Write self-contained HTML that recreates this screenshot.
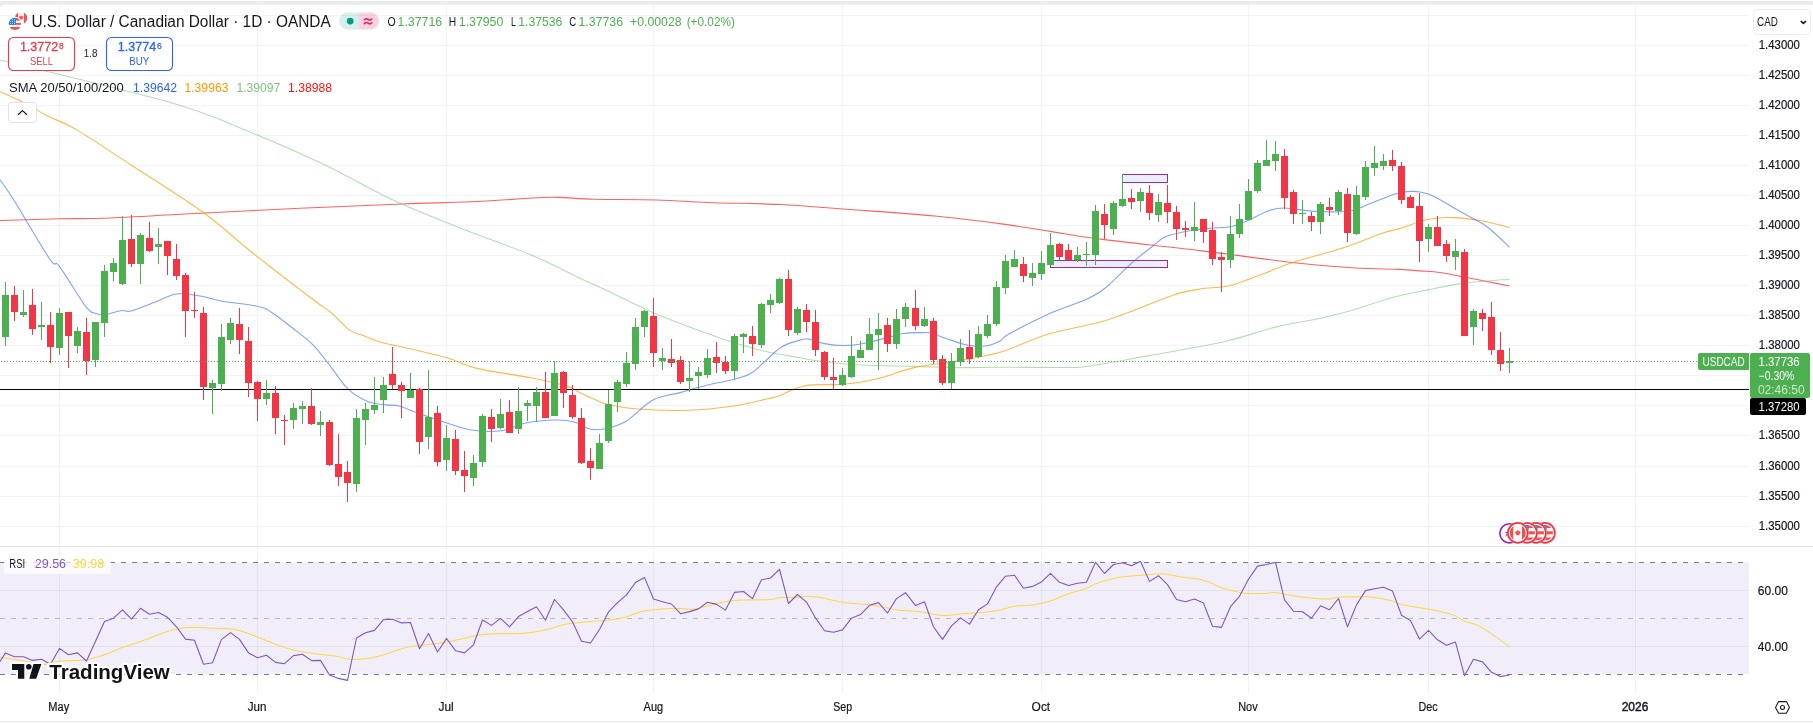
<!DOCTYPE html>
<html><head><meta charset="utf-8"><title>USDCAD</title><style>html,body{margin:0;padding:0;background:#fff;}body{width:1813px;height:724px;overflow:hidden;font-family:"Liberation Sans",sans-serif;}</style></head><body>
<svg width="1813" height="724" viewBox="0 0 1813 724" font-family="Liberation Sans, sans-serif" style="display:block;will-change:transform">
<rect width="1813" height="724" fill="#ffffff"/>
<rect x="0" y="1" width="1813" height="8" fill="#ebebeb"/>
<rect x="0" y="4.7" width="1815" height="10" rx="4" fill="#ffffff"/>
<g shape-rendering="crispEdges">
<rect x="0" y="15" width="1749" height="1" fill="#f1f3f4"/>
<rect x="0" y="45" width="1749" height="1" fill="#f1f3f4"/>
<rect x="0" y="75" width="1749" height="1" fill="#f1f3f4"/>
<rect x="0" y="105" width="1749" height="1" fill="#f1f3f4"/>
<rect x="0" y="135" width="1749" height="1" fill="#f1f3f4"/>
<rect x="0" y="165" width="1749" height="1" fill="#f1f3f4"/>
<rect x="0" y="195" width="1749" height="1" fill="#f1f3f4"/>
<rect x="0" y="225" width="1749" height="1" fill="#f1f3f4"/>
<rect x="0" y="255" width="1749" height="1" fill="#f1f3f4"/>
<rect x="0" y="285" width="1749" height="1" fill="#f1f3f4"/>
<rect x="0" y="315" width="1749" height="1" fill="#f1f3f4"/>
<rect x="0" y="345" width="1749" height="1" fill="#f1f3f4"/>
<rect x="0" y="375" width="1749" height="1" fill="#f1f3f4"/>
<rect x="0" y="405" width="1749" height="1" fill="#f1f3f4"/>
<rect x="0" y="435" width="1749" height="1" fill="#f1f3f4"/>
<rect x="0" y="466" width="1749" height="1" fill="#f1f3f4"/>
<rect x="0" y="496" width="1749" height="1" fill="#f1f3f4"/>
<rect x="0" y="526" width="1749" height="1" fill="#f1f3f4"/>
<rect x="59" y="5" width="1" height="541" fill="#f1f3f4"/>
<rect x="59" y="547" width="1" height="146" fill="#f1f3f4"/>
<rect x="257" y="5" width="1" height="541" fill="#f1f3f4"/>
<rect x="257" y="547" width="1" height="146" fill="#f1f3f4"/>
<rect x="446" y="5" width="1" height="541" fill="#f1f3f4"/>
<rect x="446" y="547" width="1" height="146" fill="#f1f3f4"/>
<rect x="653" y="5" width="1" height="541" fill="#f1f3f4"/>
<rect x="653" y="547" width="1" height="146" fill="#f1f3f4"/>
<rect x="842" y="5" width="1" height="541" fill="#f1f3f4"/>
<rect x="842" y="547" width="1" height="146" fill="#f1f3f4"/>
<rect x="1041" y="5" width="1" height="541" fill="#f1f3f4"/>
<rect x="1041" y="547" width="1" height="146" fill="#f1f3f4"/>
<rect x="1248" y="5" width="1" height="541" fill="#f1f3f4"/>
<rect x="1248" y="547" width="1" height="146" fill="#f1f3f4"/>
<rect x="1428" y="5" width="1" height="541" fill="#f1f3f4"/>
<rect x="1428" y="547" width="1" height="146" fill="#f1f3f4"/>
<rect x="1635" y="5" width="1" height="541" fill="#f1f3f4"/>
<rect x="1635" y="547" width="1" height="146" fill="#f1f3f4"/>
<rect x="0" y="546" width="1813" height="1" fill="#e0e3eb"/>
</g>
<path d="M0.0,220.5 C10.0,220.2 41.7,219.2 60.0,218.8 C78.3,218.4 86.7,218.9 110.0,218.0 C133.3,217.1 176.7,214.5 200.0,213.3 C223.3,212.1 233.3,211.5 250.0,210.7 C266.7,209.9 274.6,209.4 300.0,208.3 C325.4,207.2 374.0,205.1 402.5,204.0 C431.0,202.9 448.5,202.8 471.0,201.8 C493.5,200.8 522.6,198.5 537.3,197.8 C552.0,197.1 549.8,197.2 559.4,197.4 C569.0,197.6 578.6,198.8 594.8,199.2 C611.0,199.6 636.7,199.4 656.6,200.0 C676.5,200.6 693.4,201.9 714.0,202.7 C734.6,203.4 758.3,203.4 780.4,204.5 C802.5,205.6 820.9,207.4 846.7,209.3 C872.5,211.2 909.2,213.6 935.0,216.0 C960.8,218.4 982.2,221.3 1001.4,223.9 C1020.6,226.5 1033.1,228.8 1050.0,231.4 C1066.9,234.0 1077.7,236.2 1102.7,239.4 C1127.7,242.6 1168.1,246.7 1200.0,250.6 C1231.9,254.5 1268.2,259.8 1294.0,262.7 C1319.8,265.6 1337.3,266.9 1355.0,268.0 C1372.7,269.1 1389.2,268.9 1400.0,269.4 C1410.8,269.9 1413.3,270.4 1420.0,270.9 C1426.7,271.4 1433.2,271.6 1440.0,272.5 C1446.8,273.4 1453.7,275.1 1460.7,276.4 C1467.7,277.7 1473.9,278.9 1482.0,280.5 C1490.1,282.1 1504.9,285.1 1509.5,286.0" fill="none" stroke="#ff0000" stroke-opacity="0.62" stroke-width="1.1"/>
<path d="M0.0,60.0 C28.7,67.2 130.3,91.0 172.0,103.0 C213.7,115.0 224.5,121.7 250.0,132.0 C275.5,142.3 301.4,153.9 325.0,165.1 C348.6,176.3 369.3,188.9 391.4,199.2 C413.5,209.5 434.1,217.6 457.7,227.0 C481.3,236.4 512.5,247.2 532.9,255.7 C553.3,264.2 568.2,272.7 580.0,278.2 C591.8,283.7 590.8,282.9 603.6,288.9 C616.4,294.9 637.5,306.0 656.6,314.1 C675.8,322.2 700.8,331.4 718.5,337.5 C736.2,343.6 749.1,347.4 762.7,350.8 C776.3,354.2 791.2,356.2 800.0,357.8 C808.8,359.4 806.2,359.3 815.7,360.5 C825.2,361.7 840.5,363.8 857.0,364.8 C873.5,365.8 897.8,365.9 915.0,366.4 C932.2,366.9 945.8,367.5 960.0,367.6 C974.2,367.7 982.2,367.2 1000.0,367.2 C1017.8,367.2 1052.1,367.7 1067.0,367.5 C1081.9,367.3 1075.8,368.0 1089.5,366.0 C1103.2,364.0 1126.6,359.6 1149.0,355.6 C1171.4,351.6 1202.5,346.6 1223.7,341.8 C1244.9,337.0 1260.5,330.7 1276.0,326.9 C1291.5,323.1 1304.6,321.7 1317.0,319.0 C1329.4,316.3 1338.1,314.3 1350.5,310.8 C1362.9,307.3 1378.5,301.3 1391.5,297.8 C1404.5,294.3 1416.4,292.1 1428.8,289.6 C1441.2,287.1 1452.5,284.6 1466.0,282.9 C1479.5,281.2 1502.2,279.8 1509.5,279.2" fill="none" stroke="#81c784" stroke-opacity="0.6" stroke-width="1.1"/>
<path d="M0.0,91.5 C3.4,93.1 12.7,97.0 20.7,101.1 C28.8,105.2 39.1,111.6 48.3,116.3 C57.5,121.0 62.0,121.1 76.0,129.4 C90.0,137.7 111.3,152.1 132.6,166.0 C153.9,179.9 183.8,198.3 204.0,213.0 C224.2,227.7 235.7,239.5 254.0,254.0 C272.3,268.5 300.8,290.2 313.7,300.0 C326.6,309.8 325.4,307.9 331.5,313.0 C337.6,318.1 344.5,326.6 350.0,330.4 C355.5,334.2 359.6,334.1 364.6,336.0 C369.6,337.9 374.1,340.2 380.0,342.0 C385.9,343.8 388.8,343.9 400.0,346.5 C411.2,349.1 434.2,354.2 447.0,357.8 C459.8,361.4 462.8,365.0 477.0,368.4 C491.2,371.8 516.8,375.0 532.0,378.0 C547.2,381.0 560.5,384.2 568.5,386.6 C576.5,389.1 574.8,390.2 580.0,392.7 C585.2,395.2 595.5,399.9 600.0,401.8 C604.5,403.7 601.2,402.8 607.0,404.0 C612.8,405.2 621.0,407.8 634.7,408.8 C648.4,409.9 672.8,410.7 689.0,410.3 C705.2,409.9 718.8,408.2 732.0,406.3 C745.2,404.4 760.0,400.5 768.0,398.7 C776.0,396.9 773.8,397.6 780.0,395.4 C786.2,393.2 794.4,387.6 805.0,385.7 C815.6,383.8 831.8,385.3 843.8,384.2 C855.8,383.1 864.8,381.8 876.7,379.0 C888.6,376.2 902.1,370.3 915.0,367.4 C927.9,364.5 939.8,364.1 954.0,361.6 C968.2,359.1 984.2,356.9 1000.0,352.3 C1015.8,347.7 1030.8,339.4 1048.7,334.0 C1066.6,328.6 1086.7,326.4 1107.4,320.0 C1128.1,313.6 1157.6,300.5 1173.0,295.3 C1188.4,290.1 1190.8,290.6 1200.0,289.0 C1209.2,287.4 1218.2,288.2 1228.0,286.0 C1237.8,283.8 1247.7,279.6 1258.7,275.6 C1269.7,271.6 1280.3,266.5 1294.0,262.0 C1307.7,257.5 1326.2,253.4 1341.0,248.6 C1355.8,243.8 1373.2,236.4 1383.0,233.0 C1392.8,229.6 1392.6,230.7 1400.0,228.4 C1407.4,226.2 1418.8,221.3 1427.6,219.5 C1436.3,217.7 1443.3,217.3 1452.5,217.6 C1461.7,217.8 1473.5,219.3 1483.0,221.0 C1492.5,222.7 1505.1,226.5 1509.5,227.6" fill="none" stroke="#ff9800" stroke-opacity="0.7" stroke-width="1.1"/>
<path d="M0.0,179.7 C2.3,183.1 5.5,186.8 13.8,200.0 C22.1,213.2 42.1,247.9 49.7,259.0 C57.3,270.1 53.4,258.4 59.4,266.3 C65.4,274.2 79.6,298.6 85.6,306.4 C91.6,314.2 92.1,311.9 95.3,313.3 C98.5,314.7 100.6,315.1 105.0,314.6 C109.4,314.1 117.2,311.1 121.5,310.5 C125.8,309.9 125.5,312.4 131.0,311.0 C136.5,309.6 147.1,305.0 154.7,302.2 C162.3,299.4 169.2,295.0 176.8,294.0 C184.4,293.0 192.6,294.8 200.0,296.0 C207.4,297.2 211.7,299.3 221.0,301.0 C230.3,302.7 247.7,304.2 256.0,306.0 C264.3,307.8 264.4,307.9 271.0,312.0 C277.6,316.1 288.4,324.8 295.5,330.4 C302.6,336.0 307.6,339.3 313.7,345.6 C319.8,351.9 326.2,361.0 332.0,368.4 C337.8,375.8 342.6,384.1 348.7,389.7 C354.8,395.3 362.1,399.3 368.4,401.8 C374.7,404.3 381.8,404.2 386.7,404.9 C391.6,405.6 393.0,404.5 398.0,405.8 C403.0,407.1 409.4,410.0 416.5,412.5 C423.6,415.0 431.7,418.1 440.8,421.0 C449.9,423.9 460.9,428.4 471.0,430.0 C481.1,431.6 492.3,431.9 501.5,430.7 C510.7,429.5 516.9,424.8 526.0,423.0 C535.1,421.2 547.9,420.2 556.0,420.0 C564.1,419.8 568.9,420.5 574.5,422.0 C580.1,423.5 584.8,427.8 589.7,429.0 C594.6,430.2 598.0,430.2 604.0,429.0 C610.0,427.8 617.4,426.3 625.6,421.5 C633.8,416.7 643.9,404.8 653.0,400.0 C662.1,395.2 670.9,395.1 680.0,392.6 C689.1,390.1 698.4,387.3 707.6,385.0 C716.8,382.7 727.4,381.2 735.0,379.0 C742.6,376.8 745.4,377.2 753.0,372.0 C760.6,366.8 772.2,353.1 780.5,347.7 C788.8,342.2 797.9,340.6 803.0,339.3 C808.1,338.0 807.4,339.0 811.0,339.7 C814.6,340.4 819.0,342.6 824.5,343.6 C830.0,344.6 837.0,345.6 843.8,345.5 C850.5,345.4 858.2,344.4 865.0,343.2 C871.8,342.0 877.9,340.0 884.4,338.4 C890.9,336.8 897.3,334.5 903.7,333.5 C910.1,332.5 918.5,332.7 923.0,332.6 C927.5,332.5 927.0,332.0 930.8,333.0 C934.6,334.0 940.2,336.4 946.0,338.4 C951.8,340.3 959.1,343.4 965.6,344.7 C972.1,346.0 979.3,346.6 985.0,346.0 C990.7,345.4 996.0,342.9 1000.0,340.9 C1004.0,338.9 1000.7,338.5 1008.8,334.0 C1016.9,329.5 1035.8,319.8 1048.7,314.0 C1061.6,308.2 1076.6,303.8 1086.0,299.5 C1095.4,295.2 1097.5,294.3 1105.0,288.3 C1112.5,282.3 1122.8,270.9 1131.0,263.6 C1139.2,256.4 1148.6,249.3 1154.4,244.8 C1160.2,240.3 1160.1,238.9 1166.0,236.6 C1171.9,234.2 1182.3,232.1 1189.6,230.7 C1196.9,229.3 1203.2,229.0 1210.0,228.3 C1216.8,227.6 1224.3,227.9 1230.5,226.7 C1236.7,225.5 1240.8,223.6 1247.0,221.0 C1253.2,218.4 1261.8,213.2 1268.0,211.0 C1274.2,208.8 1276.3,207.9 1284.5,208.0 C1292.7,208.1 1306.1,211.0 1317.0,211.5 C1327.9,212.0 1341.3,212.2 1350.0,211.0 C1358.7,209.8 1361.5,206.8 1369.0,204.0 C1376.5,201.2 1388.3,196.0 1395.0,193.9 C1401.7,191.8 1404.8,191.8 1409.0,191.5 C1413.2,191.2 1416.0,191.2 1420.0,192.0 C1424.0,192.8 1427.2,193.2 1433.0,196.0 C1438.8,198.8 1448.5,204.8 1455.0,208.5 C1461.5,212.2 1466.4,214.8 1472.0,218.0 C1477.6,221.2 1482.2,222.9 1488.4,227.8 C1494.7,232.7 1506.0,244.1 1509.5,247.3" fill="none" stroke="#2962ff" stroke-opacity="0.6" stroke-width="1.1"/>
<g shape-rendering="crispEdges">
<rect x="0" y="388.5" width="1749" height="1.5" fill="#000"/>
</g>
<rect x="1122.5" y="174.5" width="45" height="8" fill="#2962ff" fill-opacity="0.1" stroke="#9c27b0" stroke-width="1"/>
<rect x="1050.5" y="260.5" width="117" height="7" fill="#2962ff" fill-opacity="0.1" stroke="#9c27b0" stroke-width="1"/>
<g shape-rendering="crispEdges">
<rect x="5" y="282" width="1" height="64" fill="#4caf50"/>
<rect x="2" y="295" width="7" height="42" fill="#4caf50"/>
<rect x="14" y="286" width="1" height="35" fill="#f23645"/>
<rect x="11" y="295" width="7" height="17" fill="#f23645"/>
<rect x="23" y="290" width="1" height="27" fill="#4caf50"/>
<rect x="20" y="312" width="7" height="3" fill="#4caf50"/>
<rect x="32" y="289" width="1" height="46" fill="#f23645"/>
<rect x="29" y="305" width="7" height="24" fill="#f23645"/>
<rect x="41" y="302" width="1" height="38" fill="#4caf50"/>
<rect x="38" y="325" width="7" height="2" fill="#4caf50"/>
<rect x="50" y="312" width="1" height="51" fill="#f23645"/>
<rect x="47" y="325" width="7" height="22" fill="#f23645"/>
<rect x="59" y="308" width="1" height="47" fill="#4caf50"/>
<rect x="56" y="313" width="7" height="35" fill="#4caf50"/>
<rect x="68" y="312" width="1" height="56" fill="#f23645"/>
<rect x="65" y="312" width="7" height="24" fill="#f23645"/>
<rect x="77" y="327" width="1" height="26" fill="#4caf50"/>
<rect x="74" y="331" width="7" height="15" fill="#4caf50"/>
<rect x="86" y="318" width="1" height="57" fill="#f23645"/>
<rect x="83" y="332" width="7" height="29" fill="#f23645"/>
<rect x="95" y="322" width="1" height="45" fill="#4caf50"/>
<rect x="92" y="322" width="7" height="38" fill="#4caf50"/>
<rect x="104" y="265" width="1" height="72" fill="#4caf50"/>
<rect x="101" y="271" width="7" height="52" fill="#4caf50"/>
<rect x="113" y="258" width="1" height="23" fill="#4caf50"/>
<rect x="110" y="263" width="7" height="9" fill="#4caf50"/>
<rect x="122" y="216" width="1" height="69" fill="#4caf50"/>
<rect x="119" y="240" width="7" height="44" fill="#4caf50"/>
<rect x="131" y="215" width="1" height="52" fill="#f23645"/>
<rect x="128" y="239" width="7" height="25" fill="#f23645"/>
<rect x="140" y="233" width="1" height="51" fill="#4caf50"/>
<rect x="137" y="235" width="7" height="29" fill="#4caf50"/>
<rect x="149" y="222" width="1" height="30" fill="#f23645"/>
<rect x="146" y="238" width="7" height="13" fill="#f23645"/>
<rect x="158" y="228" width="1" height="36" fill="#4caf50"/>
<rect x="155" y="244" width="7" height="3" fill="#4caf50"/>
<rect x="167" y="241" width="1" height="34" fill="#f23645"/>
<rect x="164" y="241" width="7" height="15" fill="#f23645"/>
<rect x="176" y="244" width="1" height="36" fill="#f23645"/>
<rect x="173" y="259" width="7" height="17" fill="#f23645"/>
<rect x="185" y="273" width="1" height="64" fill="#f23645"/>
<rect x="182" y="275" width="7" height="36" fill="#f23645"/>
<rect x="194" y="292" width="1" height="26" fill="#f23645"/>
<rect x="191" y="310" width="7" height="1" fill="#f23645"/>
<rect x="203" y="307" width="1" height="93" fill="#f23645"/>
<rect x="200" y="313" width="7" height="74" fill="#f23645"/>
<rect x="212" y="380" width="1" height="34" fill="#4caf50"/>
<rect x="209" y="383" width="7" height="5" fill="#4caf50"/>
<rect x="221" y="324" width="1" height="67" fill="#4caf50"/>
<rect x="218" y="337" width="7" height="47" fill="#4caf50"/>
<rect x="230" y="318" width="1" height="26" fill="#4caf50"/>
<rect x="227" y="323" width="7" height="17" fill="#4caf50"/>
<rect x="239" y="308" width="1" height="46" fill="#f23645"/>
<rect x="236" y="324" width="7" height="16" fill="#f23645"/>
<rect x="248" y="327" width="1" height="70" fill="#f23645"/>
<rect x="245" y="341" width="7" height="42" fill="#f23645"/>
<rect x="257" y="381" width="1" height="40" fill="#f23645"/>
<rect x="254" y="382" width="7" height="17" fill="#f23645"/>
<rect x="266" y="380" width="1" height="25" fill="#4caf50"/>
<rect x="263" y="393" width="7" height="6" fill="#4caf50"/>
<rect x="275" y="386" width="1" height="48" fill="#f23645"/>
<rect x="272" y="393" width="7" height="25" fill="#f23645"/>
<rect x="284" y="415" width="1" height="30" fill="#f23645"/>
<rect x="281" y="420" width="7" height="1" fill="#f23645"/>
<rect x="293" y="403" width="1" height="26" fill="#4caf50"/>
<rect x="290" y="408" width="7" height="12" fill="#4caf50"/>
<rect x="302" y="401" width="1" height="23" fill="#4caf50"/>
<rect x="299" y="406" width="7" height="3" fill="#4caf50"/>
<rect x="311" y="388" width="1" height="37" fill="#f23645"/>
<rect x="308" y="406" width="7" height="18" fill="#f23645"/>
<rect x="320" y="411" width="1" height="25" fill="#4caf50"/>
<rect x="317" y="422" width="7" height="3" fill="#4caf50"/>
<rect x="329" y="420" width="1" height="46" fill="#f23645"/>
<rect x="326" y="422" width="7" height="43" fill="#f23645"/>
<rect x="338" y="434" width="1" height="52" fill="#f23645"/>
<rect x="335" y="464" width="7" height="13" fill="#f23645"/>
<rect x="347" y="461" width="1" height="41" fill="#f23645"/>
<rect x="344" y="472" width="7" height="11" fill="#f23645"/>
<rect x="356" y="409" width="1" height="83" fill="#4caf50"/>
<rect x="353" y="418" width="7" height="66" fill="#4caf50"/>
<rect x="365" y="403" width="1" height="42" fill="#4caf50"/>
<rect x="362" y="409" width="7" height="11" fill="#4caf50"/>
<rect x="374" y="377" width="1" height="37" fill="#4caf50"/>
<rect x="371" y="405" width="7" height="5" fill="#4caf50"/>
<rect x="383" y="377" width="1" height="36" fill="#4caf50"/>
<rect x="380" y="385" width="7" height="15" fill="#4caf50"/>
<rect x="392" y="347" width="1" height="42" fill="#f23645"/>
<rect x="389" y="374" width="7" height="11" fill="#f23645"/>
<rect x="401" y="382" width="1" height="36" fill="#f23645"/>
<rect x="398" y="385" width="7" height="6" fill="#f23645"/>
<rect x="410" y="373" width="1" height="25" fill="#4caf50"/>
<rect x="407" y="390" width="7" height="8" fill="#4caf50"/>
<rect x="419" y="388" width="1" height="66" fill="#f23645"/>
<rect x="416" y="389" width="7" height="53" fill="#f23645"/>
<rect x="428" y="370" width="1" height="79" fill="#4caf50"/>
<rect x="425" y="417" width="7" height="20" fill="#4caf50"/>
<rect x="437" y="406" width="1" height="60" fill="#f23645"/>
<rect x="434" y="413" width="7" height="49" fill="#f23645"/>
<rect x="446" y="425" width="1" height="46" fill="#4caf50"/>
<rect x="443" y="438" width="7" height="22" fill="#4caf50"/>
<rect x="455" y="430" width="1" height="45" fill="#f23645"/>
<rect x="452" y="439" width="7" height="32" fill="#f23645"/>
<rect x="464" y="451" width="1" height="41" fill="#f23645"/>
<rect x="461" y="470" width="7" height="6" fill="#f23645"/>
<rect x="473" y="455" width="1" height="31" fill="#4caf50"/>
<rect x="470" y="463" width="7" height="15" fill="#4caf50"/>
<rect x="482" y="414" width="1" height="53" fill="#4caf50"/>
<rect x="479" y="416" width="7" height="46" fill="#4caf50"/>
<rect x="491" y="409" width="1" height="33" fill="#f23645"/>
<rect x="488" y="417" width="7" height="12" fill="#f23645"/>
<rect x="500" y="399" width="1" height="30" fill="#4caf50"/>
<rect x="497" y="414" width="7" height="14" fill="#4caf50"/>
<rect x="509" y="400" width="1" height="33" fill="#f23645"/>
<rect x="506" y="412" width="7" height="21" fill="#f23645"/>
<rect x="518" y="387" width="1" height="47" fill="#4caf50"/>
<rect x="515" y="411" width="7" height="18" fill="#4caf50"/>
<rect x="527" y="400" width="1" height="21" fill="#4caf50"/>
<rect x="524" y="403" width="7" height="3" fill="#4caf50"/>
<rect x="536" y="387" width="1" height="35" fill="#4caf50"/>
<rect x="533" y="392" width="7" height="14" fill="#4caf50"/>
<rect x="545" y="372" width="1" height="46" fill="#f23645"/>
<rect x="542" y="392" width="7" height="26" fill="#f23645"/>
<rect x="554" y="361" width="1" height="55" fill="#4caf50"/>
<rect x="551" y="373" width="7" height="43" fill="#4caf50"/>
<rect x="563" y="371" width="1" height="37" fill="#f23645"/>
<rect x="560" y="372" width="7" height="21" fill="#f23645"/>
<rect x="572" y="385" width="1" height="34" fill="#f23645"/>
<rect x="569" y="395" width="7" height="22" fill="#f23645"/>
<rect x="581" y="408" width="1" height="56" fill="#f23645"/>
<rect x="578" y="418" width="7" height="45" fill="#f23645"/>
<rect x="590" y="448" width="1" height="32" fill="#f23645"/>
<rect x="587" y="461" width="7" height="7" fill="#f23645"/>
<rect x="599" y="434" width="1" height="35" fill="#4caf50"/>
<rect x="596" y="443" width="7" height="26" fill="#4caf50"/>
<rect x="608" y="390" width="1" height="53" fill="#4caf50"/>
<rect x="605" y="404" width="7" height="37" fill="#4caf50"/>
<rect x="617" y="380" width="1" height="32" fill="#4caf50"/>
<rect x="614" y="382" width="7" height="20" fill="#4caf50"/>
<rect x="626" y="352" width="1" height="35" fill="#4caf50"/>
<rect x="623" y="363" width="7" height="21" fill="#4caf50"/>
<rect x="635" y="318" width="1" height="52" fill="#4caf50"/>
<rect x="632" y="327" width="7" height="37" fill="#4caf50"/>
<rect x="644" y="310" width="1" height="27" fill="#4caf50"/>
<rect x="641" y="311" width="7" height="16" fill="#4caf50"/>
<rect x="653" y="298" width="1" height="69" fill="#f23645"/>
<rect x="650" y="316" width="7" height="37" fill="#f23645"/>
<rect x="662" y="348" width="1" height="22" fill="#4caf50"/>
<rect x="659" y="358" width="7" height="3" fill="#4caf50"/>
<rect x="671" y="339" width="1" height="28" fill="#f23645"/>
<rect x="668" y="359" width="7" height="4" fill="#f23645"/>
<rect x="680" y="356" width="1" height="28" fill="#f23645"/>
<rect x="677" y="360" width="7" height="22" fill="#f23645"/>
<rect x="689" y="361" width="1" height="31" fill="#4caf50"/>
<rect x="686" y="378" width="7" height="3" fill="#4caf50"/>
<rect x="698" y="367" width="1" height="22" fill="#4caf50"/>
<rect x="695" y="372" width="7" height="4" fill="#4caf50"/>
<rect x="707" y="349" width="1" height="29" fill="#4caf50"/>
<rect x="704" y="358" width="7" height="17" fill="#4caf50"/>
<rect x="716" y="342" width="1" height="31" fill="#f23645"/>
<rect x="713" y="357" width="7" height="6" fill="#f23645"/>
<rect x="725" y="356" width="1" height="18" fill="#f23645"/>
<rect x="722" y="362" width="7" height="9" fill="#f23645"/>
<rect x="734" y="334" width="1" height="46" fill="#4caf50"/>
<rect x="731" y="336" width="7" height="35" fill="#4caf50"/>
<rect x="743" y="333" width="1" height="20" fill="#4caf50"/>
<rect x="740" y="334" width="7" height="3" fill="#4caf50"/>
<rect x="752" y="326" width="1" height="30" fill="#f23645"/>
<rect x="749" y="336" width="7" height="8" fill="#f23645"/>
<rect x="761" y="303" width="1" height="45" fill="#4caf50"/>
<rect x="758" y="304" width="7" height="41" fill="#4caf50"/>
<rect x="770" y="294" width="1" height="19" fill="#4caf50"/>
<rect x="767" y="300" width="7" height="5" fill="#4caf50"/>
<rect x="779" y="278" width="1" height="26" fill="#4caf50"/>
<rect x="776" y="279" width="7" height="24" fill="#4caf50"/>
<rect x="788" y="270" width="1" height="66" fill="#f23645"/>
<rect x="785" y="279" width="7" height="51" fill="#f23645"/>
<rect x="797" y="307" width="1" height="28" fill="#4caf50"/>
<rect x="794" y="309" width="7" height="24" fill="#4caf50"/>
<rect x="806" y="304" width="1" height="28" fill="#f23645"/>
<rect x="803" y="310" width="7" height="12" fill="#f23645"/>
<rect x="815" y="310" width="1" height="46" fill="#f23645"/>
<rect x="812" y="322" width="7" height="28" fill="#f23645"/>
<rect x="824" y="351" width="1" height="29" fill="#f23645"/>
<rect x="821" y="352" width="7" height="25" fill="#f23645"/>
<rect x="833" y="358" width="1" height="31" fill="#f23645"/>
<rect x="830" y="377" width="7" height="3" fill="#f23645"/>
<rect x="842" y="368" width="1" height="18" fill="#4caf50"/>
<rect x="839" y="375" width="7" height="10" fill="#4caf50"/>
<rect x="851" y="336" width="1" height="42" fill="#4caf50"/>
<rect x="848" y="356" width="7" height="21" fill="#4caf50"/>
<rect x="860" y="341" width="1" height="17" fill="#4caf50"/>
<rect x="857" y="350" width="7" height="8" fill="#4caf50"/>
<rect x="869" y="318" width="1" height="32" fill="#4caf50"/>
<rect x="866" y="334" width="7" height="16" fill="#4caf50"/>
<rect x="878" y="313" width="1" height="57" fill="#4caf50"/>
<rect x="875" y="329" width="7" height="6" fill="#4caf50"/>
<rect x="887" y="318" width="1" height="34" fill="#f23645"/>
<rect x="884" y="325" width="7" height="19" fill="#f23645"/>
<rect x="896" y="309" width="1" height="40" fill="#4caf50"/>
<rect x="893" y="319" width="7" height="25" fill="#4caf50"/>
<rect x="905" y="303" width="1" height="24" fill="#4caf50"/>
<rect x="902" y="307" width="7" height="12" fill="#4caf50"/>
<rect x="915" y="290" width="1" height="40" fill="#f23645"/>
<rect x="912" y="308" width="7" height="18" fill="#f23645"/>
<rect x="924" y="307" width="1" height="20" fill="#4caf50"/>
<rect x="921" y="319" width="7" height="7" fill="#4caf50"/>
<rect x="933" y="318" width="1" height="46" fill="#f23645"/>
<rect x="930" y="321" width="7" height="39" fill="#f23645"/>
<rect x="942" y="355" width="1" height="30" fill="#f23645"/>
<rect x="939" y="359" width="7" height="24" fill="#f23645"/>
<rect x="951" y="353" width="1" height="36" fill="#4caf50"/>
<rect x="948" y="361" width="7" height="22" fill="#4caf50"/>
<rect x="960" y="339" width="1" height="27" fill="#4caf50"/>
<rect x="957" y="348" width="7" height="14" fill="#4caf50"/>
<rect x="969" y="330" width="1" height="34" fill="#f23645"/>
<rect x="966" y="347" width="7" height="12" fill="#f23645"/>
<rect x="978" y="326" width="1" height="32" fill="#4caf50"/>
<rect x="975" y="334" width="7" height="23" fill="#4caf50"/>
<rect x="987" y="315" width="1" height="23" fill="#4caf50"/>
<rect x="984" y="324" width="7" height="12" fill="#4caf50"/>
<rect x="996" y="281" width="1" height="45" fill="#4caf50"/>
<rect x="993" y="287" width="7" height="37" fill="#4caf50"/>
<rect x="1005" y="255" width="1" height="39" fill="#4caf50"/>
<rect x="1002" y="261" width="7" height="27" fill="#4caf50"/>
<rect x="1014" y="250" width="1" height="17" fill="#4caf50"/>
<rect x="1011" y="259" width="7" height="8" fill="#4caf50"/>
<rect x="1023" y="257" width="1" height="25" fill="#f23645"/>
<rect x="1020" y="264" width="7" height="12" fill="#f23645"/>
<rect x="1032" y="263" width="1" height="23" fill="#4caf50"/>
<rect x="1029" y="273" width="7" height="5" fill="#4caf50"/>
<rect x="1041" y="251" width="1" height="29" fill="#4caf50"/>
<rect x="1038" y="263" width="7" height="11" fill="#4caf50"/>
<rect x="1050" y="233" width="1" height="32" fill="#4caf50"/>
<rect x="1047" y="245" width="7" height="20" fill="#4caf50"/>
<rect x="1059" y="243" width="1" height="17" fill="#f23645"/>
<rect x="1056" y="244" width="7" height="13" fill="#f23645"/>
<rect x="1068" y="244" width="1" height="16" fill="#f23645"/>
<rect x="1065" y="250" width="7" height="10" fill="#f23645"/>
<rect x="1077" y="247" width="1" height="15" fill="#4caf50"/>
<rect x="1074" y="255" width="7" height="5" fill="#4caf50"/>
<rect x="1086" y="242" width="1" height="24" fill="#4caf50"/>
<rect x="1083" y="254" width="7" height="1" fill="#4caf50"/>
<rect x="1095" y="205" width="1" height="60" fill="#4caf50"/>
<rect x="1092" y="211" width="7" height="44" fill="#4caf50"/>
<rect x="1104" y="204" width="1" height="35" fill="#f23645"/>
<rect x="1101" y="214" width="7" height="11" fill="#f23645"/>
<rect x="1113" y="201" width="1" height="34" fill="#4caf50"/>
<rect x="1110" y="203" width="7" height="26" fill="#4caf50"/>
<rect x="1122" y="174" width="1" height="33" fill="#4caf50"/>
<rect x="1119" y="199" width="7" height="7" fill="#4caf50"/>
<rect x="1131" y="189" width="1" height="20" fill="#f23645"/>
<rect x="1128" y="198" width="7" height="4" fill="#f23645"/>
<rect x="1140" y="188" width="1" height="24" fill="#4caf50"/>
<rect x="1137" y="192" width="7" height="9" fill="#4caf50"/>
<rect x="1149" y="185" width="1" height="35" fill="#f23645"/>
<rect x="1146" y="193" width="7" height="20" fill="#f23645"/>
<rect x="1158" y="194" width="1" height="28" fill="#4caf50"/>
<rect x="1155" y="202" width="7" height="13" fill="#4caf50"/>
<rect x="1167" y="185" width="1" height="38" fill="#f23645"/>
<rect x="1164" y="203" width="7" height="9" fill="#f23645"/>
<rect x="1176" y="206" width="1" height="34" fill="#f23645"/>
<rect x="1173" y="212" width="7" height="17" fill="#f23645"/>
<rect x="1185" y="221" width="1" height="16" fill="#f23645"/>
<rect x="1182" y="228" width="7" height="2" fill="#f23645"/>
<rect x="1194" y="202" width="1" height="39" fill="#4caf50"/>
<rect x="1191" y="227" width="7" height="4" fill="#4caf50"/>
<rect x="1203" y="219" width="1" height="24" fill="#f23645"/>
<rect x="1200" y="219" width="7" height="13" fill="#f23645"/>
<rect x="1212" y="222" width="1" height="43" fill="#f23645"/>
<rect x="1209" y="230" width="7" height="29" fill="#f23645"/>
<rect x="1221" y="252" width="1" height="40" fill="#f23645"/>
<rect x="1218" y="257" width="7" height="3" fill="#f23645"/>
<rect x="1230" y="216" width="1" height="52" fill="#4caf50"/>
<rect x="1227" y="234" width="7" height="26" fill="#4caf50"/>
<rect x="1239" y="204" width="1" height="34" fill="#4caf50"/>
<rect x="1236" y="219" width="7" height="15" fill="#4caf50"/>
<rect x="1248" y="179" width="1" height="41" fill="#4caf50"/>
<rect x="1245" y="191" width="7" height="29" fill="#4caf50"/>
<rect x="1257" y="160" width="1" height="33" fill="#4caf50"/>
<rect x="1254" y="163" width="7" height="28" fill="#4caf50"/>
<rect x="1266" y="140" width="1" height="26" fill="#4caf50"/>
<rect x="1263" y="160" width="7" height="6" fill="#4caf50"/>
<rect x="1275" y="141" width="1" height="30" fill="#4caf50"/>
<rect x="1272" y="154" width="7" height="7" fill="#4caf50"/>
<rect x="1284" y="149" width="1" height="60" fill="#f23645"/>
<rect x="1281" y="156" width="7" height="42" fill="#f23645"/>
<rect x="1293" y="190" width="1" height="34" fill="#f23645"/>
<rect x="1290" y="192" width="7" height="22" fill="#f23645"/>
<rect x="1302" y="200" width="1" height="24" fill="#4caf50"/>
<rect x="1299" y="213" width="7" height="1" fill="#4caf50"/>
<rect x="1311" y="212" width="1" height="19" fill="#f23645"/>
<rect x="1308" y="216" width="7" height="6" fill="#f23645"/>
<rect x="1320" y="202" width="1" height="32" fill="#4caf50"/>
<rect x="1317" y="204" width="7" height="18" fill="#4caf50"/>
<rect x="1329" y="198" width="1" height="18" fill="#f23645"/>
<rect x="1326" y="207" width="7" height="3" fill="#f23645"/>
<rect x="1338" y="190" width="1" height="25" fill="#4caf50"/>
<rect x="1335" y="192" width="7" height="19" fill="#4caf50"/>
<rect x="1347" y="188" width="1" height="54" fill="#f23645"/>
<rect x="1344" y="194" width="7" height="39" fill="#f23645"/>
<rect x="1356" y="186" width="1" height="49" fill="#4caf50"/>
<rect x="1353" y="195" width="7" height="39" fill="#4caf50"/>
<rect x="1365" y="161" width="1" height="39" fill="#4caf50"/>
<rect x="1362" y="167" width="7" height="30" fill="#4caf50"/>
<rect x="1374" y="146" width="1" height="30" fill="#4caf50"/>
<rect x="1371" y="163" width="7" height="5" fill="#4caf50"/>
<rect x="1383" y="154" width="1" height="16" fill="#4caf50"/>
<rect x="1380" y="161" width="7" height="5" fill="#4caf50"/>
<rect x="1392" y="150" width="1" height="21" fill="#f23645"/>
<rect x="1389" y="160" width="7" height="6" fill="#f23645"/>
<rect x="1401" y="162" width="1" height="42" fill="#f23645"/>
<rect x="1398" y="166" width="7" height="34" fill="#f23645"/>
<rect x="1410" y="195" width="1" height="13" fill="#f23645"/>
<rect x="1407" y="197" width="7" height="11" fill="#f23645"/>
<rect x="1419" y="193" width="1" height="69" fill="#f23645"/>
<rect x="1416" y="206" width="7" height="35" fill="#f23645"/>
<rect x="1428" y="224" width="1" height="28" fill="#4caf50"/>
<rect x="1425" y="227" width="7" height="12" fill="#4caf50"/>
<rect x="1437" y="216" width="1" height="30" fill="#f23645"/>
<rect x="1434" y="227" width="7" height="19" fill="#f23645"/>
<rect x="1446" y="240" width="1" height="22" fill="#f23645"/>
<rect x="1443" y="244" width="7" height="12" fill="#f23645"/>
<rect x="1455" y="239" width="1" height="31" fill="#4caf50"/>
<rect x="1452" y="251" width="7" height="6" fill="#4caf50"/>
<rect x="1464" y="249" width="1" height="87" fill="#f23645"/>
<rect x="1461" y="252" width="7" height="84" fill="#f23645"/>
<rect x="1473" y="309" width="1" height="36" fill="#4caf50"/>
<rect x="1470" y="311" width="7" height="16" fill="#4caf50"/>
<rect x="1482" y="309" width="1" height="22" fill="#f23645"/>
<rect x="1479" y="313" width="7" height="6" fill="#f23645"/>
<rect x="1491" y="302" width="1" height="53" fill="#f23645"/>
<rect x="1488" y="317" width="7" height="33" fill="#f23645"/>
<rect x="1500" y="332" width="1" height="39" fill="#f23645"/>
<rect x="1497" y="350" width="7" height="14" fill="#f23645"/>
<rect x="1509" y="348" width="1" height="25" fill="#4caf50"/>
<rect x="1506" y="361" width="7" height="2" fill="#4caf50"/>
</g>
<line x1="0" y1="361.5" x2="1698" y2="361.5" stroke="#4caf50" stroke-width="1" stroke-dasharray="1 2" stroke-dashoffset="-1" shape-rendering="crispEdges"/>
<rect x="0" y="562.5" width="1749" height="111.5" fill="#7e57c2" fill-opacity="0.1"/>
<g shape-rendering="crispEdges">
<rect x="0" y="590" width="1749" height="1" fill="#2a2e39" fill-opacity="0.06"/>
<rect x="0" y="646" width="1749" height="1" fill="#2a2e39" fill-opacity="0.06"/>
</g>
<g shape-rendering="crispEdges">
<line x1="0" y1="562.5" x2="1749" y2="562.5" stroke="#787b86" stroke-width="1" stroke-dasharray="5 6"/>
<line x1="0" y1="618.5" x2="1749" y2="618.5" stroke="#b9bbc3" stroke-width="1" stroke-dasharray="5 6"/>
<line x1="0" y1="674.5" x2="1749" y2="674.5" stroke="#787b86" stroke-width="1" stroke-dasharray="5 6"/>
</g>
<path d="M0.0,657.3 C1.8,657.6 6.2,658.2 10.5,658.9 C14.8,659.6 22.2,660.6 26.0,661.3 C29.8,662.0 30.3,662.6 33.5,663.1 C36.7,663.6 41.1,664.7 45.0,664.5 C48.9,664.3 52.9,662.4 56.6,661.8 C60.3,661.2 62.5,661.0 67.0,660.8 C71.5,660.5 79.2,660.8 83.8,660.3 C88.3,659.8 90.8,658.8 94.3,657.9 C97.8,657.0 101.3,655.9 104.8,654.7 C108.3,653.5 112.4,651.7 115.3,650.5 C118.2,649.3 118.0,649.0 122.1,647.5 C126.3,646.0 134.1,643.8 140.1,641.7 C146.1,639.7 152.1,637.0 158.0,634.9 C164.0,632.8 170.0,630.3 176.0,629.0 C182.0,627.7 188.0,627.5 194.0,627.4 C200.0,627.3 206.5,628.1 211.9,628.3 C217.3,628.5 221.8,628.3 226.3,628.6 C230.8,629.0 233.8,629.1 238.9,630.4 C244.0,631.8 250.8,634.5 256.8,636.7 C262.8,639.0 269.7,642.0 274.8,643.9 C279.9,645.8 283.2,647.1 287.4,648.4 C291.6,649.6 294.9,650.5 300.0,651.4 C305.1,652.4 312.0,653.4 318.0,654.1 C323.9,654.9 330.8,655.3 335.9,656.1 C341.0,657.0 344.3,658.7 348.5,659.2 C352.7,659.7 356.6,659.5 361.1,659.2 C365.6,658.8 370.0,658.3 375.4,657.0 C380.8,655.8 387.7,653.4 393.4,651.6 C399.1,649.9 404.2,647.7 409.6,646.6 C414.9,645.5 420.0,645.5 425.7,644.8 C431.4,644.1 437.7,643.5 443.7,642.5 C449.7,641.5 455.7,640.1 461.6,638.9 C467.6,637.6 473.6,635.8 479.6,634.9 C485.6,634.1 491.6,633.9 497.6,633.7 C503.5,633.5 509.5,633.9 515.5,633.7 C521.5,633.4 527.5,633.1 533.5,632.2 C539.5,631.3 546.3,629.6 551.4,628.3 C556.5,627.0 559.5,625.4 564.0,624.5 C568.5,623.6 573.0,623.3 578.4,622.7 C583.8,622.1 592.7,621.4 596.3,621.1 C599.9,620.8 597.9,621.1 600.0,620.9 C602.1,620.7 604.8,620.6 609.0,620.0 C613.2,619.4 619.5,618.8 625.1,617.3 C630.8,615.9 635.3,612.7 643.1,611.2 C650.9,609.7 664.1,608.8 671.8,608.5 C679.6,608.2 685.3,609.3 689.8,609.2 C694.3,609.2 694.3,609.3 698.8,608.3 C703.3,607.4 710.8,604.8 716.7,603.5 C722.7,602.2 728.7,601.0 734.7,600.4 C740.7,599.8 746.7,600.0 752.7,599.9 C758.6,599.7 766.1,599.9 770.6,599.5 C775.1,599.2 775.1,598.1 779.6,597.7 C784.1,597.4 792.8,597.4 797.6,597.2 C802.3,597.0 804.4,596.2 808.3,596.3 C812.2,596.4 815.2,596.6 820.9,597.6 C826.6,598.6 835.9,601.2 842.5,602.2 C849.0,603.3 854.4,603.4 860.4,604.0 C866.4,604.7 872.4,605.2 878.4,606.2 C884.4,607.1 892.7,609.1 896.3,609.8 C899.9,610.5 895.8,610.0 900.0,610.3 C904.2,610.7 914.4,611.1 921.6,611.9 C928.7,612.8 936.2,615.2 943.1,615.5 C950.0,615.8 955.7,614.3 962.9,613.7 C970.0,613.2 979.9,612.8 986.2,612.1 C992.5,611.5 995.8,610.8 1000.6,609.8 C1005.4,608.8 1009.6,607.0 1014.9,606.2 C1020.3,605.4 1026.9,605.8 1032.9,604.9 C1038.9,604.0 1044.9,602.7 1050.9,600.8 C1056.8,598.9 1062.8,595.7 1068.8,593.6 C1074.8,591.5 1082.3,589.9 1086.8,588.2 C1091.3,586.6 1091.6,585.3 1095.8,583.7 C1100.0,582.2 1107.1,580.1 1111.9,578.9 C1116.7,577.7 1119.7,577.2 1124.5,576.6 C1129.3,576.0 1135.0,575.7 1140.7,575.3 C1146.3,574.8 1154.1,574.0 1158.6,573.9 C1163.1,573.7 1163.7,573.9 1167.6,574.4 C1171.5,574.9 1176.6,576.3 1182.0,577.1 C1187.4,577.9 1196.7,578.8 1200.0,579.2 C1203.3,579.7 1199.9,579.2 1201.7,579.8 C1203.5,580.4 1207.5,581.5 1210.8,582.8 C1214.1,584.2 1217.4,586.4 1221.6,587.9 C1225.7,589.3 1231.7,590.5 1235.9,591.5 C1240.1,592.4 1241.6,593.1 1246.7,593.4 C1251.8,593.8 1261.8,593.6 1266.5,593.4 C1271.1,593.3 1270.0,591.9 1274.5,592.4 C1279.0,592.8 1287.3,595.0 1293.4,595.9 C1299.5,596.9 1305.5,597.6 1311.4,598.1 C1317.2,598.6 1323.9,599.2 1328.4,599.0 C1332.9,598.9 1333.4,597.6 1338.3,597.2 C1343.2,596.8 1352.4,596.8 1358.0,596.8 C1363.7,596.8 1367.0,596.6 1372.4,597.2 C1377.8,597.8 1385.6,599.2 1390.4,600.4 C1395.2,601.6 1396.4,603.2 1401.1,604.4 C1405.9,605.6 1413.1,606.6 1419.1,607.6 C1425.1,608.7 1431.1,609.3 1437.1,610.7 C1443.1,612.0 1450.5,614.0 1455.0,615.7 C1459.5,617.4 1461.0,619.8 1464.0,621.1 C1467.0,622.4 1470.0,622.5 1473.0,623.6 C1476.0,624.7 1478.4,625.7 1482.0,627.7 C1485.6,629.8 1490.0,632.6 1494.5,635.8 C1499.1,639.0 1507.0,644.9 1509.4,646.8" fill="none" stroke="#fdd835" stroke-width="1"/>
<path d="M-3.5,667.0 L5.5,652.9 L14.5,656.7 L23.5,656.8 L32.5,660.4 L41.5,659.2 L50.5,664.2 L59.5,648.4 L68.5,654.7 L77.5,652.9 L86.5,661.0 L95.5,641.2 L104.5,621.5 L113.5,618.2 L122.5,609.8 L131.5,619.1 L140.5,608.3 L149.5,614.3 L158.5,612.5 L167.5,617.3 L176.5,626.8 L185.5,639.1 L194.5,640.3 L203.5,664.2 L212.5,662.8 L221.5,639.4 L230.5,632.6 L239.5,639.4 L248.5,652.9 L257.5,657.7 L266.5,655.2 L275.5,662.4 L284.5,663.7 L293.5,655.6 L302.5,654.3 L311.5,660.6 L320.5,660.4 L329.5,675.0 L338.5,678.4 L347.5,680.4 L356.5,638.0 L365.5,632.8 L374.5,630.4 L383.5,619.7 L392.5,619.3 L401.5,622.9 L410.5,622.5 L419.5,648.8 L428.5,633.5 L437.5,652.0 L446.5,638.5 L455.5,650.7 L464.5,652.9 L473.5,644.8 L482.5,620.0 L491.5,625.4 L500.5,618.4 L509.5,626.8 L518.5,616.6 L527.5,611.6 L536.5,606.7 L545.5,620.2 L554.5,599.5 L563.5,609.8 L572.5,621.8 L581.5,641.2 L590.5,643.0 L599.5,629.5 L608.5,611.9 L617.5,602.6 L626.5,594.9 L635.5,582.5 L644.5,577.4 L653.5,599.0 L662.5,601.7 L671.5,604.0 L680.5,613.7 L689.5,611.6 L698.5,608.9 L707.5,602.2 L716.5,604.4 L725.5,610.1 L734.5,592.4 L743.5,591.5 L752.5,598.6 L761.5,579.8 L770.5,578.0 L779.5,569.4 L788.5,603.5 L797.5,594.5 L806.5,602.1 L815.5,617.9 L824.5,630.8 L833.5,632.2 L842.5,629.9 L851.5,618.2 L860.5,614.6 L869.5,605.3 L878.5,602.6 L887.5,613.0 L896.5,598.6 L905.5,592.7 L915.5,605.6 L924.5,601.7 L933.5,626.8 L942.5,639.4 L951.5,625.9 L960.5,617.9 L969.5,624.1 L978.5,609.8 L987.5,603.9 L996.5,586.8 L1005.5,576.2 L1014.5,575.3 L1023.5,588.2 L1032.5,586.4 L1041.5,581.9 L1050.5,573.3 L1059.5,582.3 L1068.5,585.5 L1077.5,583.2 L1086.5,582.3 L1095.5,562.2 L1104.5,573.5 L1113.5,564.5 L1122.5,562.7 L1131.5,565.8 L1140.5,561.3 L1149.5,581.4 L1158.5,575.7 L1167.5,584.6 L1176.5,599.5 L1185.5,601.7 L1194.5,599.0 L1203.5,603.1 L1212.5,626.3 L1221.5,627.4 L1230.5,606.7 L1239.5,596.3 L1248.5,579.2 L1257.5,566.1 L1266.5,564.5 L1275.5,562.2 L1284.5,599.9 L1293.5,611.2 L1302.5,611.8 L1311.5,618.2 L1320.5,605.8 L1329.5,609.8 L1338.5,598.5 L1347.5,626.8 L1356.5,604.9 L1365.5,590.6 L1374.5,588.8 L1383.5,587.3 L1392.5,590.9 L1401.5,615.2 L1410.5,620.6 L1419.5,639.1 L1428.5,630.4 L1437.5,639.8 L1446.5,645.3 L1455.5,642.1 L1464.5,675.7 L1473.5,659.2 L1482.5,661.9 L1491.5,672.3 L1500.5,676.6 L1509.5,675.0" fill="none" stroke="#7e57c2" stroke-width="1.1" stroke-linejoin="round"/>
<rect x="4" y="557" width="107" height="17" rx="2" fill="#ffffff" fill-opacity="0.72"/>
<text x="9.3" y="568" font-size="12" fill="#131722" font-weight="normal" textLength="15.8" lengthAdjust="spacingAndGlyphs" >RSI</text>
<text x="34.7" y="568" font-size="12" fill="#7e57c2" font-weight="normal" textLength="31.4" lengthAdjust="spacingAndGlyphs" >29.56</text>
<text x="72.7" y="568" font-size="12" fill="#fdd835" font-weight="normal" textLength="31.5" lengthAdjust="spacingAndGlyphs" >39.98</text>
<text x="1758.8" y="49.4" font-size="12" fill="#131722" font-weight="normal" textLength="41.1" lengthAdjust="spacingAndGlyphs" stroke="#131722" stroke-width="0.2">1.43000</text>
<text x="1758.8" y="79.4" font-size="12" fill="#131722" font-weight="normal" textLength="41.1" lengthAdjust="spacingAndGlyphs" stroke="#131722" stroke-width="0.2">1.42500</text>
<text x="1758.8" y="109.4" font-size="12" fill="#131722" font-weight="normal" textLength="41.1" lengthAdjust="spacingAndGlyphs" stroke="#131722" stroke-width="0.2">1.42000</text>
<text x="1758.8" y="139.4" font-size="12" fill="#131722" font-weight="normal" textLength="41.1" lengthAdjust="spacingAndGlyphs" stroke="#131722" stroke-width="0.2">1.41500</text>
<text x="1758.8" y="169.4" font-size="12" fill="#131722" font-weight="normal" textLength="41.1" lengthAdjust="spacingAndGlyphs" stroke="#131722" stroke-width="0.2">1.41000</text>
<text x="1758.8" y="199.4" font-size="12" fill="#131722" font-weight="normal" textLength="41.1" lengthAdjust="spacingAndGlyphs" stroke="#131722" stroke-width="0.2">1.40500</text>
<text x="1758.8" y="229.4" font-size="12" fill="#131722" font-weight="normal" textLength="41.1" lengthAdjust="spacingAndGlyphs" stroke="#131722" stroke-width="0.2">1.40000</text>
<text x="1758.8" y="259.4" font-size="12" fill="#131722" font-weight="normal" textLength="41.1" lengthAdjust="spacingAndGlyphs" stroke="#131722" stroke-width="0.2">1.39500</text>
<text x="1758.8" y="289.4" font-size="12" fill="#131722" font-weight="normal" textLength="41.1" lengthAdjust="spacingAndGlyphs" stroke="#131722" stroke-width="0.2">1.39000</text>
<text x="1758.8" y="319.4" font-size="12" fill="#131722" font-weight="normal" textLength="41.1" lengthAdjust="spacingAndGlyphs" stroke="#131722" stroke-width="0.2">1.38500</text>
<text x="1758.8" y="349.4" font-size="12" fill="#131722" font-weight="normal" textLength="41.1" lengthAdjust="spacingAndGlyphs" stroke="#131722" stroke-width="0.2">1.38000</text>
<text x="1758.8" y="439.4" font-size="12" fill="#131722" font-weight="normal" textLength="41.1" lengthAdjust="spacingAndGlyphs" stroke="#131722" stroke-width="0.2">1.36500</text>
<text x="1758.8" y="470.4" font-size="12" fill="#131722" font-weight="normal" textLength="41.1" lengthAdjust="spacingAndGlyphs" stroke="#131722" stroke-width="0.2">1.36000</text>
<text x="1758.8" y="500.4" font-size="12" fill="#131722" font-weight="normal" textLength="41.1" lengthAdjust="spacingAndGlyphs" stroke="#131722" stroke-width="0.2">1.35500</text>
<text x="1758.8" y="530.4" font-size="12" fill="#131722" font-weight="normal" textLength="41.1" lengthAdjust="spacingAndGlyphs" stroke="#131722" stroke-width="0.2">1.35000</text>
<text x="1757.8" y="594.9" font-size="12" fill="#131722" font-weight="normal" textLength="30.0" lengthAdjust="spacingAndGlyphs" stroke="#131722" stroke-width="0.2">60.00</text>
<text x="1757.8" y="650.9" font-size="12" fill="#131722" font-weight="normal" textLength="30.0" lengthAdjust="spacingAndGlyphs" stroke="#131722" stroke-width="0.2">40.00</text>
<rect x="1753.5" y="9.5" width="57" height="25" rx="4" fill="#fff" stroke="#ebebee"/>
<text x="1757.1" y="26.3" font-size="12" fill="#131722" font-weight="normal" textLength="20.8" lengthAdjust="spacingAndGlyphs" >CAD</text>
<path d="M1801.2,21.4 L1803.4,23.4 L1805.6,21.4" fill="none" stroke="#131722" stroke-width="1.5" stroke-linecap="round" stroke-linejoin="round"/>
<path d="M1700,353 H1749 V370 H1700 a2,2 0 0 1 -2,-2 V355 a2,2 0 0 1 2,-2 z" fill="#4caf50"/>
<text x="1702.6" y="365.8" font-size="12" fill="#ffffff" font-weight="normal" textLength="42.0" lengthAdjust="spacingAndGlyphs" >USDCAD</text>
<rect x="1750" y="353" width="60" height="45" rx="2" fill="#4caf50"/>
<text x="1758.6" y="365.8" font-size="12" fill="#ffffff" font-weight="normal" textLength="41.0" lengthAdjust="spacingAndGlyphs" >1.37736</text>
<text x="1758.6" y="380.2" font-size="12" fill="#ffffff" font-weight="normal" textLength="35.7" lengthAdjust="spacingAndGlyphs" >−0.30%</text>
<text x="1757.9" y="394" font-size="12" fill="#ffffff" font-weight="normal" textLength="46.7" lengthAdjust="spacingAndGlyphs" fill-opacity="0.72">02:46:50</text>
<rect x="1750" y="398" width="56" height="17" rx="2" fill="#000"/>
<text x="1758.6" y="410.9" font-size="12" fill="#ffffff" font-weight="normal" textLength="41.0" lengthAdjust="spacingAndGlyphs" >1.37280</text>
<text x="48.3" y="710.9" font-size="12" fill="#131722" font-weight="normal" textLength="20.9" lengthAdjust="spacingAndGlyphs" stroke="#131722" stroke-width="0.2">May</text>
<text x="247.7" y="710.9" font-size="12" fill="#131722" font-weight="normal" textLength="18.7" lengthAdjust="spacingAndGlyphs" stroke="#131722" stroke-width="0.2">Jun</text>
<text x="438.5" y="710.9" font-size="12" fill="#131722" font-weight="normal" textLength="15.2" lengthAdjust="spacingAndGlyphs" stroke="#131722" stroke-width="0.2">Jul</text>
<text x="643.6" y="710.9" font-size="12" fill="#131722" font-weight="normal" textLength="19.5" lengthAdjust="spacingAndGlyphs" stroke="#131722" stroke-width="0.2">Aug</text>
<text x="833.2" y="710.9" font-size="12" fill="#131722" font-weight="normal" textLength="18.9" lengthAdjust="spacingAndGlyphs" stroke="#131722" stroke-width="0.2">Sep</text>
<text x="1031.6" y="710.9" font-size="12" fill="#131722" font-weight="normal" textLength="18.6" lengthAdjust="spacingAndGlyphs" stroke="#131722" stroke-width="0.2">Oct</text>
<text x="1238.2" y="710.9" font-size="12" fill="#131722" font-weight="normal" textLength="19.4" lengthAdjust="spacingAndGlyphs" stroke="#131722" stroke-width="0.2">Nov</text>
<text x="1418.5" y="710.9" font-size="12" fill="#131722" font-weight="normal" textLength="19.1" lengthAdjust="spacingAndGlyphs" stroke="#131722" stroke-width="0.2">Dec</text>
<text x="1621.7" y="710.9" font-size="12" fill="#131722" font-weight="normal" textLength="26.6" lengthAdjust="spacingAndGlyphs" stroke="#131722" stroke-width="0.45">2026</text>
<rect x="0" y="721" width="1813" height="1" fill="#e9e9e9"/>
<rect x="0" y="722" width="1813" height="1" fill="#fafafa"/>
<path d="M1775.5,707.45 L1778.6,701.6 L1786.4,701.6 L1789.5,707.45 L1786.4,713.3 L1778.6,713.3 Z" fill="none" stroke="#131722" stroke-width="1.05" stroke-linejoin="round"/>
<circle cx="1782.5" cy="707.45" r="2" fill="none" stroke="#131722" stroke-width="1.05"/>
<g><circle cx="1545" cy="532.9" r="10.8" fill="#fff"/><circle cx="1545" cy="532.9" r="9.950000000000001" fill="#fff" stroke="#f23645" stroke-width="1.7"/><clipPath id="us0"><circle cx="1545" cy="532.9" r="8.05"/></clipPath><g clip-path="url(#us0)"><rect x="1536.95" y="524.85" width="16.1" height="16.1" fill="#f7f8fb"/><rect x="1536.95" y="525.5" width="16.1" height="2.6000000000000227" fill="#ef5350"/><rect x="1536.95" y="531.3" width="16.1" height="3.0" fill="#ef5350"/><rect x="1536.95" y="537.5" width="16.1" height="2.7999999999999545" fill="#ef5350"/><rect x="1536.95" y="524.85" width="9.65" height="5.15" fill="#1e88e5"/></g></g>
<g><circle cx="1536" cy="532.9" r="10.8" fill="#fff"/><circle cx="1536" cy="532.9" r="9.950000000000001" fill="#fff" stroke="#f23645" stroke-width="1.7"/><clipPath id="us1"><circle cx="1536" cy="532.9" r="8.05"/></clipPath><g clip-path="url(#us1)"><rect x="1527.95" y="524.85" width="16.1" height="16.1" fill="#f7f8fb"/><rect x="1527.95" y="525.5" width="16.1" height="2.6000000000000227" fill="#ef5350"/><rect x="1527.95" y="531.3" width="16.1" height="3.0" fill="#ef5350"/><rect x="1527.95" y="537.5" width="16.1" height="2.7999999999999545" fill="#ef5350"/><rect x="1527.95" y="524.85" width="9.65" height="5.15" fill="#1e88e5"/></g></g>
<g><circle cx="1527" cy="532.9" r="10.8" fill="#fff"/><circle cx="1527" cy="532.9" r="9.950000000000001" fill="#fff" stroke="#f23645" stroke-width="1.7"/><clipPath id="us2"><circle cx="1527" cy="532.9" r="8.05"/></clipPath><g clip-path="url(#us2)"><rect x="1518.95" y="524.85" width="16.1" height="16.1" fill="#f7f8fb"/><rect x="1518.95" y="525.5" width="16.1" height="2.6000000000000227" fill="#ef5350"/><rect x="1518.95" y="531.3" width="16.1" height="3.0" fill="#ef5350"/><rect x="1518.95" y="537.5" width="16.1" height="2.7999999999999545" fill="#ef5350"/><rect x="1518.95" y="524.85" width="9.65" height="5.15" fill="#1e88e5"/></g></g>
<circle cx="1509.4" cy="533.3" r="9.55" fill="#fff" stroke="#9c27b0" stroke-width="1.7"/>
<path d="M1507.2,531.2 l-2.2,1.6 l2,0.4 l-2,3.6 l3.2,-2.4" fill="#9c27b0"/>
<g><circle cx="1517.8" cy="532.9" r="10.8" fill="#fff"/><circle cx="1517.8" cy="532.9" r="9.950000000000001" fill="#fff" stroke="#f23645" stroke-width="1.7"/><clipPath id="ca0"><circle cx="1517.8" cy="532.9" r="8.05"/></clipPath><g clip-path="url(#ca0)"><rect x="1509.75" y="524.85" width="16.1" height="16.1" fill="#f7f8fb"/><rect x="1509.75" y="524.85" width="3.5500000000000007" height="16.1" fill="#ef5350"/><rect x="1522.0" y="524.85" width="3.8500000000000005" height="16.1" fill="#ef5350"/><path d="M1517.8,529.8 l0.9,1.5 l1.3,-0.6 l-0.3,1.6 l1.2,0 l-1.6,2.1 l0.3,0.9 l-1.8,-0.4 l-1.8,0.4 l0.3,-0.9 l-1.6,-2.1 l1.2,0 l-0.3,-1.6 l1.3,0.6 z" fill="#ef5350"/></g></g>
<clipPath id="hca"><circle cx="21.1" cy="18.1" r="6.1"/></clipPath><g clip-path="url(#hca)"><rect x="14" y="11" width="15" height="15" fill="#f5f7fa"/><rect x="15" y="12" width="3.2" height="13" fill="#ef5350"/><rect x="23.9" y="12" width="4" height="13" fill="#ef5350"/><path d="M21.1,15.2 l0.8,1.2 l1.2,-0.4 l-0.4,1.5 l0.9,0.3 l-1.5,1.2 l0.2,0.7 l-1.2,-0.2 l-1.2,0.2 l0.2,-0.7 l-1.5,-1.2 l0.9,-0.3 l-0.4,-1.5 l1.2,0.4 z" fill="#ef5350"/></g>
<circle cx="15" cy="23.9" r="7.2" fill="#fff"/>
<clipPath id="hus"><circle cx="15" cy="23.9" r="6.2"/></clipPath><g clip-path="url(#hus)"><rect x="8" y="17" width="14" height="14" fill="#f5f7fa"/>
<rect x="8" y="17.5" width="14" height="3.1" fill="#ef5350"/>
<rect x="8" y="23" width="14" height="1.8" fill="#ef5350"/>
<rect x="8" y="27" width="14" height="3.5" fill="#ef5350"/>
<rect x="8" y="17" width="7.9" height="7.8" fill="#1e88e5"/>
<rect x="10.0" y="19.1" width="0.8" height="0.8" fill="#fff"/>
<rect x="10.0" y="21.1" width="0.8" height="0.8" fill="#fff"/>
<rect x="10.0" y="23.1" width="0.8" height="0.8" fill="#fff"/>
<rect x="12.0" y="19.1" width="0.8" height="0.8" fill="#fff"/>
<rect x="12.0" y="21.1" width="0.8" height="0.8" fill="#fff"/>
<rect x="12.0" y="23.1" width="0.8" height="0.8" fill="#fff"/>
<rect x="14.0" y="19.1" width="0.8" height="0.8" fill="#fff"/>
<rect x="14.0" y="21.1" width="0.8" height="0.8" fill="#fff"/>
<rect x="14.0" y="23.1" width="0.8" height="0.8" fill="#fff"/>
</g>
<text x="31.4" y="27.2" font-size="16" fill="#131722" font-weight="normal" textLength="299.3" lengthAdjust="spacingAndGlyphs" >U.S. Dollar / Canadian Dollar · 1D · OANDA</text>
<path d="M347.7,12.5 H359 V29.5 H347.7 a8.5,8.5 0 0 1 0,-17 z" fill="#089981" fill-opacity="0.16"/>
<path d="M359,12.5 H370.6 a8.5,8.5 0 0 1 0,17 H359 z" fill="#e91e63" fill-opacity="0.2"/>
<circle cx="350.2" cy="21.1" r="3.4" fill="#089981"/>
<path d="M364.3,19.8 q1.9,-1.9 3.8,-0.4 q1.9,1.5 3.8,-0.4 M364.3,23.6 q1.9,-1.9 3.8,-0.4 q1.9,1.5 3.8,-0.4" fill="none" stroke="#e91e63" stroke-width="1.5" stroke-linecap="round"/>
<text x="387.4" y="26.4" font-size="13" fill="#131722" font-weight="normal" textLength="8.2" lengthAdjust="spacingAndGlyphs" >O</text>
<text x="397.6" y="26.4" font-size="13" fill="#4caf50" font-weight="normal" textLength="44.5" lengthAdjust="spacingAndGlyphs" >1.37716</text>
<text x="448.8" y="26.4" font-size="13" fill="#131722" font-weight="normal" textLength="7.4" lengthAdjust="spacingAndGlyphs" >H</text>
<text x="458.8" y="26.4" font-size="13" fill="#4caf50" font-weight="normal" textLength="44.5" lengthAdjust="spacingAndGlyphs" >1.37950</text>
<text x="511.1" y="26.4" font-size="13" fill="#131722" font-weight="normal" textLength="4.9" lengthAdjust="spacingAndGlyphs" >L</text>
<text x="518.3" y="26.4" font-size="13" fill="#4caf50" font-weight="normal" textLength="44.0" lengthAdjust="spacingAndGlyphs" >1.37536</text>
<text x="569.3" y="26.4" font-size="13" fill="#131722" font-weight="normal" textLength="6.9" lengthAdjust="spacingAndGlyphs" >C</text>
<text x="578.5" y="26.4" font-size="13" fill="#4caf50" font-weight="normal" textLength="44.5" lengthAdjust="spacingAndGlyphs" >1.37736</text>
<text x="630" y="26.4" font-size="13" fill="#4caf50" font-weight="normal" textLength="51.6" lengthAdjust="spacingAndGlyphs" >+0.00028</text>
<text x="686.7" y="26.4" font-size="13" fill="#4caf50" font-weight="normal" textLength="48.2" lengthAdjust="spacingAndGlyphs" >(+0.02%)</text>
<rect x="8.5" y="37.5" width="66" height="33" rx="5" fill="#fff" stroke="#f23645" stroke-width="1.1"/>
<text x="19.9" y="50.9" font-size="12.5" fill="#f23645" font-weight="normal" textLength="38.4" lengthAdjust="spacingAndGlyphs" stroke="#f23645" stroke-width="0.3">1.3772</text>
<text x="58.9" y="48.6" font-size="8.5" fill="#f23645" font-weight="normal" textLength="4.6" lengthAdjust="spacingAndGlyphs" stroke="#f23645" stroke-width="0.25">8</text>
<text x="30" y="65" font-size="11" fill="#f23645" font-weight="normal" textLength="23" lengthAdjust="spacingAndGlyphs" >SELL</text>
<text x="83.8" y="57" font-size="10.5" fill="#131722" font-weight="normal" textLength="13.7" lengthAdjust="spacingAndGlyphs" >1.8</text>
<rect x="106.5" y="37.5" width="66" height="33" rx="5" fill="#fff" stroke="#2962ff" stroke-width="1.1"/>
<text x="117.8" y="50.9" font-size="12.5" fill="#2962ff" font-weight="normal" textLength="38.4" lengthAdjust="spacingAndGlyphs" stroke="#2962ff" stroke-width="0.3">1.3774</text>
<text x="156.9" y="48.6" font-size="8.5" fill="#2962ff" font-weight="normal" textLength="4.7" lengthAdjust="spacingAndGlyphs" stroke="#2962ff" stroke-width="0.25">6</text>
<text x="129.3" y="65" font-size="11" fill="#2962ff" font-weight="normal" textLength="19.9" lengthAdjust="spacingAndGlyphs" >BUY</text>
<text x="9" y="91.8" font-size="12" fill="#131722" font-weight="normal" textLength="114.7" lengthAdjust="spacingAndGlyphs" >SMA 20/50/100/200</text>
<text x="133" y="91.8" font-size="12" fill="#2962ff" font-weight="normal" textLength="44" lengthAdjust="spacingAndGlyphs" >1.39642</text>
<text x="184.4" y="91.8" font-size="12" fill="#ff9800" font-weight="normal" textLength="44.1" lengthAdjust="spacingAndGlyphs" >1.39963</text>
<text x="236.4" y="91.8" font-size="12" fill="#7cc47f" font-weight="normal" textLength="44.0" lengthAdjust="spacingAndGlyphs" >1.39097</text>
<text x="288" y="91.8" font-size="12" fill="#ff1010" font-weight="normal" textLength="44" lengthAdjust="spacingAndGlyphs" >1.38988</text>
<rect x="8.5" y="102.5" width="28" height="20" rx="3" fill="#fff" stroke="#e0e3eb" stroke-width="1"/>
<path d="M18.6,114.3 L22.5,110.6 L26.4,114.3" fill="none" stroke="#131722" stroke-width="1.2" stroke-linecap="round" stroke-linejoin="round"/>
<g stroke="#fff" stroke-width="4.4" stroke-linejoin="round" fill="#fff"><path d="M12,664 H24.3 V678.8 H18 V669.9 H12 Z"/><circle cx="28.8" cy="666.8" r="2.8"/><path d="M33.5,664 H41.4 L36.2,678.8 H29.3 Z"/></g>
<text x="49.3" y="678.6" font-size="20" font-weight="bold" textLength="120.5" lengthAdjust="spacingAndGlyphs" fill="#fff" stroke="#fff" stroke-width="4.4" stroke-linejoin="round">TradingView</text>
<g fill="#111318"><path d="M12,664 H24.3 V678.8 H18 V669.9 H12 Z"/><circle cx="28.8" cy="666.8" r="2.8"/><path d="M33.5,664 H41.4 L36.2,678.8 H29.3 Z"/></g>
<text x="49.3" y="678.6" font-size="20" font-weight="bold" textLength="120.5" lengthAdjust="spacingAndGlyphs" fill="#111318">TradingView</text>
</svg>
</body></html>
